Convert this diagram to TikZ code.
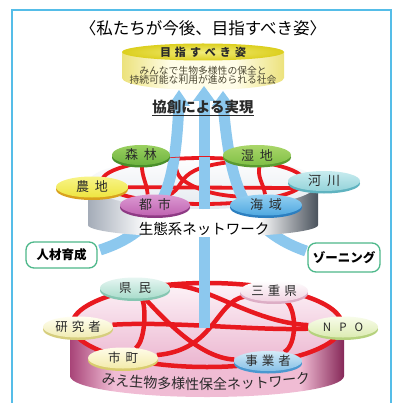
\documentclass[tikz,border=0pt]{standalone}
\usepackage{fontspec}
\setmainfont{Noto Sans CJK JP}
\usetikzlibrary{shapes.geometric,shadows,decorations.text}
\definecolor{frameblue}{HTML}{55BDE8}
\definecolor{shaftblue}{HTML}{8CC8EE}
\definecolor{netred}{HTML}{E8191F}
\definecolor{boxgreen}{HTML}{4DB88A}
\definecolor{txt}{HTML}{2A2A2A}
\definecolor{pinkL}{HTML}{A84478}
\definecolor{pinkM}{HTML}{F0BCD4}
\definecolor{pinkR}{HTML}{862858}
\definecolor{pinkTa}{HTML}{FDF4F8}
\definecolor{pinkTb}{HTML}{EBB4CF}
\definecolor{greyL}{HTML}{A4ACB8}
\definecolor{greyR}{HTML}{4A525C}
\definecolor{greyT}{HTML}{E4E9EF}
\definecolor{cylSide}{HTML}{ECE27C}
\definecolor{cylMid}{HTML}{FFFDE8}
\definecolor{cylIn}{HTML}{F2EC7A}
\definecolor{cylOut}{HTML}{DCCF1E}
% eco node colours
\definecolor{shA}{HTML}{9AD060}\definecolor{shB}{HTML}{6DB33F}\definecolor{shC}{HTML}{4A8F2A}
\definecolor{scA}{HTML}{AAD66A}\definecolor{scB}{HTML}{80C046}\definecolor{scC}{HTML}{5A9A30}
\definecolor{ksA}{HTML}{C8ECEF}\definecolor{ksB}{HTML}{94D3DA}\definecolor{ksC}{HTML}{5FB3C0}
\definecolor{noA}{HTML}{F8F488}\definecolor{noB}{HTML}{EEE540}\definecolor{noC}{HTML}{D9A21E}
\definecolor{toA}{HTML}{DC9AD2}\definecolor{toB}{HTML}{C064B2}\definecolor{toC}{HTML}{8E3A84}
\definecolor{kaA}{HTML}{94D0F2}\definecolor{kaB}{HTML}{4FA8E0}\definecolor{kaC}{HTML}{2C7FC0}
% network node colours
\definecolor{kmA}{HTML}{E6F6F2}\definecolor{kmB}{HTML}{A9DCCB}\definecolor{kmC}{HTML}{86C6B2}
\definecolor{sjA}{HTML}{FFFFFF}\definecolor{sjB}{HTML}{F1D3E2}\definecolor{sjC}{HTML}{DDAEC6}
\definecolor{kkA}{HTML}{FFFEF0}\definecolor{kkB}{HTML}{F1ECB4}\definecolor{kkC}{HTML}{D6CE7E}
\definecolor{npA}{HTML}{F8FCEA}\definecolor{npB}{HTML}{DCEBB2}\definecolor{npC}{HTML}{B6D27E}
\definecolor{scmA}{HTML}{FFFCEA}\definecolor{scmB}{HTML}{F3EBAA}\definecolor{scmC}{HTML}{D9CC6E}
\definecolor{jgA}{HTML}{D4EBF8}\definecolor{jgB}{HTML}{86C0E6}\definecolor{jgC}{HTML}{4A98D0}
\pgfdeclarehorizontalshading{ecoside}{100bp}{color(0bp)=(greyL); color(25bp)=(greyL);
  color(38bp)=(white); color(62bp)=(white); color(75bp)=(greyR); color(100bp)=(greyR)}
\pgfdeclarehorizontalshading{pinkside}{100bp}{color(0bp)=(pinkL); color(25bp)=(pinkL);
  color(33bp)=(pinkM); color(67bp)=(pinkM); color(75bp)=(pinkR); color(100bp)=(pinkR)}
\pgfdeclarehorizontalshading{cylside}{100bp}{color(0bp)=(cylSide); color(25bp)=(cylSide);
  color(40bp)=(cylMid); color(60bp)=(cylMid); color(75bp)=(cylSide); color(100bp)=(cylSide)}
\pgfdeclarelayer{l1}\pgfdeclarelayer{l2}\pgfdeclarelayer{l3}\pgfdeclarelayer{l4}
\pgfdeclarelayer{l5}\pgfdeclarelayer{l6}\pgfdeclarelayer{l7}
\pgfsetlayers{l1,l2,l3,l4,l5,l6,l7,main}
\tikzset{
  redline/.style={netred, line width=#1},
  shaftline/.style={shaftblue, line width=11pt},
  disk/.style n args={5}{ellipse, inner sep=0pt, minimum width=#1, minimum height=#2,
     top color=#3, bottom color=#4, general shadow={fill=#5, shadow yshift=-2.5pt}, text=txt},
  lab/.style={font=\fontsize{#1}{#1}\selectfont},
  sidebox/.style={draw=boxgreen, line width=1.3pt, fill=white, rounded corners=8pt, inner sep=0pt,
     text=black, font=\bfseries\fontsize{12.5}{13}\selectfont},
}
\begin{document}
\begin{tikzpicture}[x=1pt,y=-1pt]
\useasboundingbox (0,0) rectangle (399,403);

% ---------- layer 1: frame and pink disc
\begin{pgfonlayer}{l1}
  \fill[white] (0,0) rectangle (399,403);
  \draw[frameblue, line width=2pt] (12,415) -- (12,10) -- (391,10) -- (391,415);
  \shade[shading=pinkside]
    (70,325) -- (70,376) arc[start angle=180, end angle=0, x radius=137, y radius=21] -- (344,325) -- cycle;
  \shade[top color=pinkTa, bottom color=pinkTb] (207,325) ellipse [x radius=137, y radius=43];
\end{pgfonlayer}

% ---------- layer 3: network nodes
\begin{pgfonlayer}{l3}
  \node[disk={70pt}{21pt}{kmA}{kmB}{kmC}, lab=12.5] (kenminN) at (135,288) {県\kern7pt 民};
  \node[disk={68pt}{21pt}{sjA}{sjB}{sjC}, lab=12.5] (sanjukenN) at (274,291) {三\kern4pt 重\kern4pt 県};
  \node[disk={70pt}{21pt}{kkA}{kkB}{kkC}, lab=12.5] (kenkyuN) at (78,327) {研\kern4pt 究\kern4pt 者};
  \node[disk={70pt}{21pt}{npA}{npB}{npC}, lab=11.5] (npoN) at (343,327) {N\kern8pt P\kern8pt O};
  \node[disk={70pt}{21pt}{scmA}{scmB}{scmC}, lab=12.5] (shichoN) at (123,358) {市\kern5pt 町};
  \node[disk={68pt}{20pt}{jgA}{jgB}{jgC}, lab=12.5] (jigyoshaN) at (268,361) {事\kern4pt 業\kern4pt 者};
  \path[decorate, decoration={text along path, text align=center,
      text={|\fontsize{14}{14}\selectfont\color{txt}|みえ生物多様性保全ネットワーク}}]
    (94,382) .. controls (150,392) and (262,392) .. (318,381);
\end{pgfonlayer}

% ---------- layer 2: network red lines
\begin{pgfonlayer}{l2}
  \draw[redline=4.5pt] (207,325) ellipse [x radius=135, y radius=42];
  \draw[redline=4.5pt] (kenkyuN) .. controls (170,321) and (260,331) .. (npoN);
  \draw[redline=4.5pt] (kenminN) .. controls (146,305) and (146,340) .. (shichoN);
  \draw[redline=4.5pt] (sanjukenN) .. controls (297,310) and (297,345) .. (jigyoshaN);
  \draw[redline=4.5pt] (kenminN) .. controls (165,320) and (200,358) .. (jigyoshaN);
  \draw[redline=4.5pt] (shichoN) .. controls (215,350) and (215,302) .. (sanjukenN);
  \draw[redline=4.5pt] (kenminN) .. controls (205,283) and (250,322) .. (npoN);
\end{pgfonlayer}

% ---------- layer 4: arrow shafts and side boxes
\coordinate (lTop) at (179,104);
\coordinate (lEnd) at (100,250);
\coordinate (mTop) at (204,100);
\coordinate (mEnd) at (204,328);
\coordinate (rTop) at (223,104);
\coordinate (rEnd) at (306,251);
\begin{pgfonlayer}{l4}
  \draw[shaftline] (lTop) .. controls (175,180) and (168,228) .. (lEnd);
  \draw[shaftline] (mTop) -- (mEnd);
  \draw[shaftline] (rTop) .. controls (230,180) and (240,228) .. (rEnd);
  \node[sidebox, minimum width=71pt, minimum height=26pt] (hrN) at (61.5,255) {人材育成};
  \node[sidebox, minimum width=72pt, minimum height=29pt] (znN) at (344,257.5) {ゾーニング};
\end{pgfonlayer}

% ---------- layer 5: ecosystem disc
\begin{pgfonlayer}{l5}
  \shade[shading=ecoside]
    (88,183) -- (88,225) arc[start angle=180, end angle=0, x radius=115, y radius=12] -- (318,183) -- cycle;
  \shade[top color=white, bottom color=greyT] (203,183) ellipse [x radius=115, y radius=26];
\end{pgfonlayer}

% ---------- main: ecosystem nodes
\node[disk={58pt}{20pt}{shA}{shB}{shC}, lab=13] (shinrinN) at (141,155) {森\kern6pt 林};
\node[disk={68pt}{20pt}{scA}{scB}{scC}, lab=13] (shicchiN) at (257,155) {湿\kern6pt 地};
\node[disk={72pt}{20pt}{ksA}{ksB}{ksC}, lab=13] (kasenN) at (324,181) {河\kern6pt 川};
\node[disk={72pt}{21pt}{noA}{noB}{noC}, lab=13] (nouchiN) at (92,187) {農\kern6pt 地};
\node[disk={70pt}{21pt}{toA}{toB}{toC}, lab=13] (toshiN) at (155,205) {都\kern6pt 市};
\node[disk={72pt}{21pt}{kaA}{kaB}{kaC}, lab=13] (kaiikiN) at (266,205) {海\kern6pt 域};
\node[lab=14.5, text=black] (ecoLab) at (204,229) {生態系ネットワーク};

% ---------- layer 6: ecosystem red lines
\begin{pgfonlayer}{l6}
  \draw[redline=3.8pt] (203,181) ellipse [x radius=101, y radius=23];
  \draw[redline=3.8pt] (nouchiN) -- (kasenN.-165);
  \draw[redline=3.8pt] (shinrinN.-85) .. controls +(0,12) and +(-1,-12) .. (toshiN.125);
  \draw[redline=3.8pt] (shinrinN.-10) .. controls (180,160) and (172,172) .. (183,180)
                        .. controls (195,189) and (215,196) .. (kaiikiN.160);
  \draw[redline=3.8pt] (shicchiN.-165) .. controls (205,165) and (190,170) .. (183,180)
                        .. controls (177,188) and (175,194) .. (toshiN.40);
  \draw[redline=3.8pt] (shicchiN.-75) .. controls +(-3,12) and +(-2,-12) .. (kaiikiN.95);
\end{pgfonlayer}

% ---------- layer 7: shafts over the disc top
\begin{pgfonlayer}{l7}
  \begin{scope}
    \clip (203,183) ellipse [x radius=115, y radius=26];
    \draw[shaftline] (lTop) .. controls (175,180) and (168,228) .. (lEnd);
    \draw[shaftline] (mTop) -- (mEnd);
    \draw[shaftline] (rTop) .. controls (230,180) and (240,228) .. (rEnd);
  \end{scope}
\end{pgfonlayer}

% ---------- main: top cylinder, arrow heads, texts
\shade[shading=cylside]
  (122,52) -- (122,78) arc[start angle=180, end angle=0, x radius=81, y radius=12] -- (284,52) -- cycle;
\shade[inner color=cylIn, outer color=cylOut] (203,52) ellipse [x radius=81, y radius=8.5];
\node[text=txt, font=\bfseries\fontsize{11}{11}\selectfont] (goalN) at (203,52)
  {目\kern4pt 指\kern4pt す\kern4pt べ\kern4pt き\kern4pt 姿};
\node[align=center, text={rgb,255:red,74;green,70;blue,50}, font=\fontsize{9.8}{9.4}\selectfont] (goalText) at (203,75.5)
  {みんなで生物多様性の保全と\\持続可能な利用が進められる社会};

\fill[shaftblue] (179,90) -- (190,106) -- (168,106) -- cycle;
\fill[shaftblue] (204,86) -- (215,101) -- (193,101) -- cycle;
\fill[shaftblue] (223,91) -- (234,106) -- (212,106) -- cycle;

\node[font=\bfseries\fontsize{14.5}{15}\selectfont, text=txt] (kyosoN) at (203,108) {\underline{協創による実現}};
\node[font=\fontsize{16.5}{18}\selectfont, text=black] (titleN) at (203,28) {〈私たちが今後、目指すべき姿〉};
\end{tikzpicture}
\end{document}
